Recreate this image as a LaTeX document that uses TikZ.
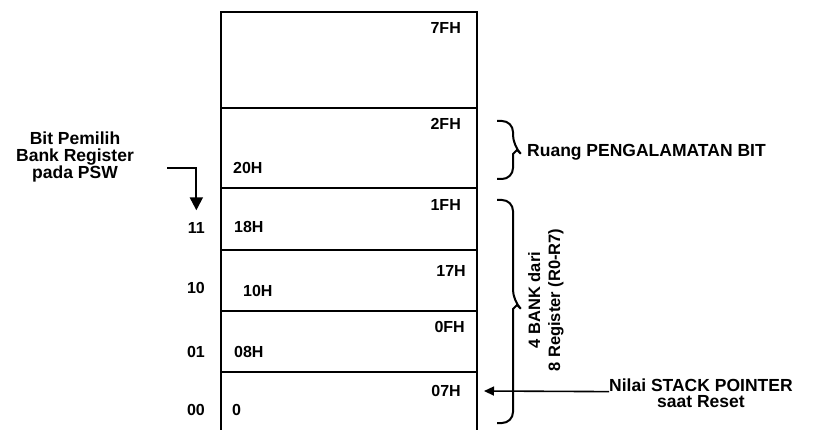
\documentclass[tikz,border=0pt]{standalone}
\usepackage{fontspec}
\setmainfont{Liberation Sans}
\usepackage{tikz}
\usetikzlibrary{arrows.meta,positioning,calc}
\colorlet{InkBlack}{black}

\begin{document}
\begin{tikzpicture}[x=1pt,y=-1pt,
    lbl/.style={font=\fontsize{16}{17}\selectfont\bfseries,text=InkBlack,inner sep=0pt},
    side/.style={lbl,font=\fontsize{17.5}{17}\selectfont\bfseries},
    wall/.style={line width=2.6pt,InkBlack},
    sep/.style={line width=1.8pt,InkBlack},
    brc/.style={line width=2pt,InkBlack,rounded corners=11pt}]
  \useasboundingbox (0,0) rectangle (814,430);
  % memory block, open at the bottom
  \draw[wall] (221,430) -- (221,12) -- (477,12) -- (477,430);
  \foreach \y in {108,188,250,311,372}
    \draw[sep] (221,\y) -- (477,\y);
  % addresses inside the block
  \node[lbl,anchor=east] (a7F) at (461,28) {7FH};
  \node[lbl,anchor=east] (a2F) at (461,124) {2FH};
  \node[lbl,anchor=west] (a20) at (233,168) {20H};
  \node[lbl,anchor=east] (a1F) at (461,205) {1FH};
  \node[lbl,anchor=west] (a18) at (234,227) {18H};
  \node[lbl,anchor=east] (a17) at (466,271) {17H};
  \node[lbl,anchor=west] (a10) at (243,291) {10H};
  \node[lbl,anchor=east] (a0F) at (465,327) {0FH};
  \node[lbl,anchor=west] (a08) at (234,352) {08H};
  \node[lbl,anchor=east] (a07) at (461,391) {07H};
  \node[lbl,anchor=west] (a00) at (232,410) {0};
  % bank select bits
  \node[lbl,anchor=east] (b11) at (205,228) {11};
  \node[lbl,anchor=east] (b10) at (205,288) {10};
  \node[lbl,anchor=east] (b01) at (205,352) {01};
  \node[lbl,anchor=east] (b00) at (205,410) {00};
  \node[side,align=center] (psw) at (75,157) {Bit Pemilih\\Bank Register\\pada PSW};
  \coordinate (pswA) at (167,168);
  \draw[-{Triangle[length=13pt,width=13pt]},line width=2pt,InkBlack]
    (pswA) -| ([yshift=12pt]b11.north);
  % braces on the right
  \draw[brc] (497,121) -- (513,121) -- (513,146) [sharp corners] -- (517,150) -- (513,154)
    [rounded corners=11pt] -- (513,179) -- (497,179);
  \node[side,anchor=west] (bitarea) at (527,152) {Ruang PENGALAMATAN BIT};
  \draw[brc] (497,200) -- (513,200) -- (513,301) [sharp corners] -- (517,305) -- (513,309)
    [rounded corners=11pt] -- (513,423) -- (497,423);
  \node[lbl,align=center,rotate=90,font=\fontsize{16.5}{20}\selectfont\bfseries]
    (banks) at (546,300) {4 BANK dari\\8 Register (R0-R7)};
  % stack pointer
  \node[side,anchor=west] (spTop) at (609,385) {Nilai STACK POINTER};
  \node[side,below=4pt of spTop] (spBot) {saat Reset};
  \coordinate (spTip) at (484,391);
  \draw[-{Triangle[length=10pt,width=9pt]},line width=1.6pt,InkBlack]
    (spTop.south west) -- (spTip);
\end{tikzpicture}
\end{document}
